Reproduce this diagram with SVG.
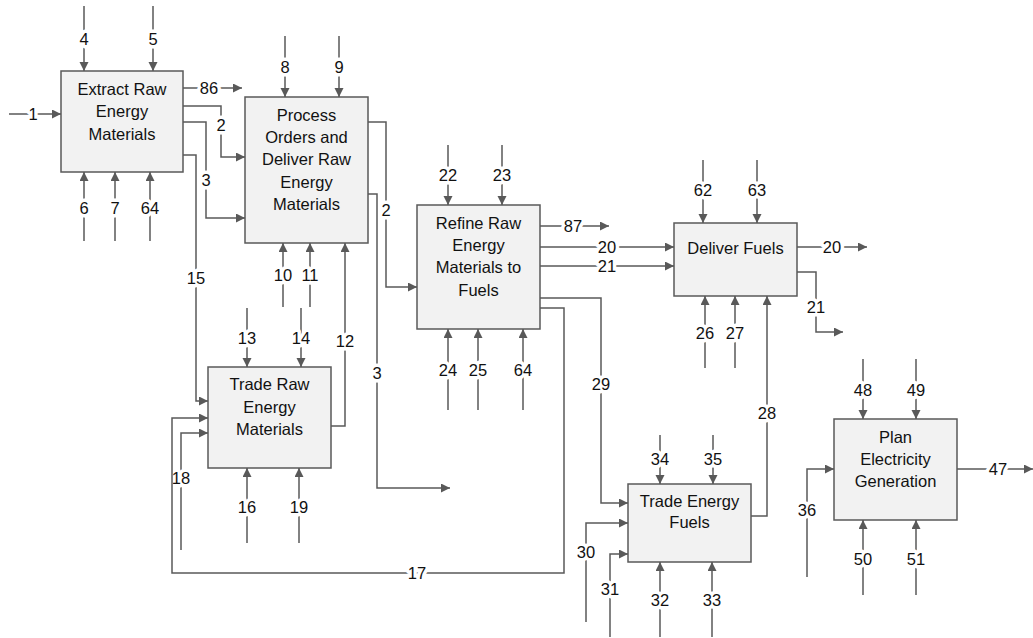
<svg xmlns="http://www.w3.org/2000/svg" width="1033" height="638" viewBox="0 0 1033 638">
<defs>
<marker id="ah" markerUnits="userSpaceOnUse" markerWidth="10" markerHeight="10" refX="9" refY="4.5" orient="auto">
<path d="M0,0 L9,4.5 L0,9 z" fill="#595959"/>
</marker>
<style>
.box{fill:#f2f2f2;stroke:#595959;stroke-width:1.5}
.ln{fill:none;stroke:#595959;stroke-width:1.5;marker-end:url(#ah)}
.pl{fill:none;stroke:#595959;stroke-width:1.5}
.t{font-family:"Liberation Sans",Arial,sans-serif;font-size:16.5px;fill:#111;text-anchor:middle}
.lb{font-family:"Liberation Sans",Arial,sans-serif;font-size:16.5px;fill:#111;text-anchor:middle;stroke:#fff;stroke-width:7;paint-order:stroke;stroke-linejoin:round}
</style>
</defs>
<rect width="1033" height="638" fill="#fff"/>

<g id="connectors">
<!-- Extract Raw Energy Materials -->
<path class="ln" d="M84,6 V71"/><text class="lb" x="84" y="45">4</text>
<path class="ln" d="M153,6 V71"/><text class="lb" x="153" y="45">5</text>
<path class="ln" d="M9,114 H61"/><text class="lb" x="33" y="120">1</text>
<path class="ln" d="M84,241 V172"/><text class="lb" x="84" y="214">6</text>
<path class="ln" d="M115,241 V172"/><text class="lb" x="115" y="214">7</text>
<path class="ln" d="M150,241 V172"/><text class="lb" x="150" y="214">64</text>
<path class="ln" d="M183,88 H242"/><text class="lb" x="209" y="94">86</text>
<path class="ln" d="M183,106 H221 V157 H245"/><text class="lb" x="221" y="131">2</text>
<path class="ln" d="M183,122 H206 V218 H245"/><text class="lb" x="206" y="186">3</text>
<path class="ln" d="M183,155 H196 V401 H208"/><text class="lb" x="196" y="284">15</text>
<!-- Process Orders -->
<path class="ln" d="M285,36 V97"/><text class="lb" x="285" y="73">8</text>
<path class="ln" d="M339,36 V97"/><text class="lb" x="339" y="73">9</text>
<path class="ln" d="M283,307 V243"/><text class="lb" x="283" y="281">10</text>
<path class="ln" d="M310,307 V243"/><text class="lb" x="310" y="281">11</text>
<path class="ln" d="M331,426 H345 V243"/><text class="lb" x="345" y="347">12</text>
<path class="ln" d="M368,122 H386 V287 H417"/><text class="lb" x="386" y="216">2</text>
<path class="ln" d="M368,194 H377 V488 H450"/><text class="lb" x="377" y="379">3</text>
<!-- Trade Raw Energy Materials -->
<path class="ln" d="M247,308 V367"/><text class="lb" x="247" y="344">13</text>
<path class="ln" d="M301,308 V367"/><text class="lb" x="301" y="344">14</text>
<path class="ln" d="M247,543 V468"/><text class="lb" x="247" y="513">16</text>
<path class="ln" d="M299,543 V468"/><text class="lb" x="299" y="513">19</text>
<path class="ln" d="M181,550 V433 H208"/><text class="lb" x="181" y="484">18</text>
<path class="ln" d="M540,308 H564 V573 H172 V418 H208"/><text class="lb" x="417" y="579">17</text>
<!-- Refine -->
<path class="ln" d="M448,145 V205"/><text class="lb" x="448" y="181">22</text>
<path class="ln" d="M502,145 V205"/><text class="lb" x="502" y="181">23</text>
<path class="ln" d="M448,410 V329"/><text class="lb" x="448" y="376">24</text>
<path class="ln" d="M478,410 V329"/><text class="lb" x="478" y="376">25</text>
<path class="ln" d="M523,410 V329"/><text class="lb" x="523" y="376">64</text>
<path class="ln" d="M540,226 H609"/><text class="lb" x="573" y="232">87</text>
<path class="ln" d="M540,247 H674"/><text class="lb" x="607" y="253">20</text>
<path class="ln" d="M540,266 H674"/><text class="lb" x="607" y="272">21</text>
<path class="ln" d="M540,298 H601 V503 H628"/><text class="lb" x="601" y="390">29</text>
<!-- Deliver Fuels -->
<path class="ln" d="M703,160 V223"/><text class="lb" x="703" y="196">62</text>
<path class="ln" d="M757,160 V223"/><text class="lb" x="757" y="196">63</text>
<path class="ln" d="M705,368 V296"/><text class="lb" x="705" y="339">26</text>
<path class="ln" d="M735,368 V296"/><text class="lb" x="735" y="339">27</text>
<path class="ln" d="M751,516 H767 V296"/><text class="lb" x="767" y="419">28</text>
<path class="ln" d="M797,247 H867"/><text class="lb" x="832" y="253">20</text>
<path class="ln" d="M797,272 H816 V332 H843"/><text class="lb" x="816" y="313">21</text>
<!-- Trade Energy Fuels -->
<path class="ln" d="M660,435 V484"/><text class="lb" x="660" y="465">34</text>
<path class="ln" d="M713,435 V484"/><text class="lb" x="713" y="465">35</text>
<path class="ln" d="M660,637 V562"/><text class="lb" x="660" y="606">32</text>
<path class="ln" d="M712,637 V562"/><text class="lb" x="712" y="606">33</text>
<path class="ln" d="M586,622 V523 H628"/><text class="lb" x="586" y="558">30</text>
<path class="ln" d="M610,637 V554 H628"/><text class="lb" x="610" y="595">31</text>
<!-- Plan Electricity Generation -->
<path class="ln" d="M863,359 V419"/><text class="lb" x="863" y="396">48</text>
<path class="ln" d="M916,359 V419"/><text class="lb" x="916" y="396">49</text>
<path class="ln" d="M863,595 V520"/><text class="lb" x="863" y="565">50</text>
<path class="ln" d="M916,595 V520"/><text class="lb" x="916" y="565">51</text>
<path class="ln" d="M807,577 V469 H834"/><text class="lb" x="807" y="516">36</text>
<path class="ln" d="M957,469 H1033"/><text class="lb" x="998" y="475">47</text>
</g>

<g id="extract">
<rect class="box" x="61" y="71" width="122" height="101"/>
<text class="t" x="122" y="94.5">Extract Raw</text>
<text class="t" x="122" y="117">Energy</text>
<text class="t" x="122" y="139.5">Materials</text>
</g>
<g id="process">
<rect class="box" x="245" y="97" width="123" height="146"/>
<text class="t" x="306.5" y="121">Process</text>
<text class="t" x="306.5" y="143">Orders and</text>
<text class="t" x="306.5" y="165">Deliver Raw</text>
<text class="t" x="306.5" y="187.5">Energy</text>
<text class="t" x="306.5" y="209.5">Materials</text>
</g>
<g id="tradeRaw">
<rect class="box" x="208" y="367" width="123" height="101"/>
<text class="t" x="269.5" y="390">Trade Raw</text>
<text class="t" x="269.5" y="412.5">Energy</text>
<text class="t" x="269.5" y="435">Materials</text>
</g>
<g id="refine">
<rect class="box" x="417" y="205" width="123" height="124"/>
<text class="t" x="478.5" y="229">Refine Raw</text>
<text class="t" x="478.5" y="251">Energy</text>
<text class="t" x="478.5" y="273">Materials to</text>
<text class="t" x="478.5" y="295.5">Fuels</text>
</g>
<g id="deliver">
<rect class="box" x="674" y="223" width="123" height="73"/>
<text class="t" x="735.5" y="254">Deliver Fuels</text>
</g>
<g id="tradeFuels">
<rect class="box" x="628" y="484" width="123" height="78"/>
<text class="t" x="689.5" y="507">Trade Energy</text>
<text class="t" x="689.5" y="528">Fuels</text>
</g>
<g id="plan">
<rect class="box" x="834" y="419" width="123" height="101"/>
<text class="t" x="895.5" y="443">Plan</text>
<text class="t" x="895.5" y="465">Electricity</text>
<text class="t" x="895.5" y="487">Generation</text>
</g>
</svg>
